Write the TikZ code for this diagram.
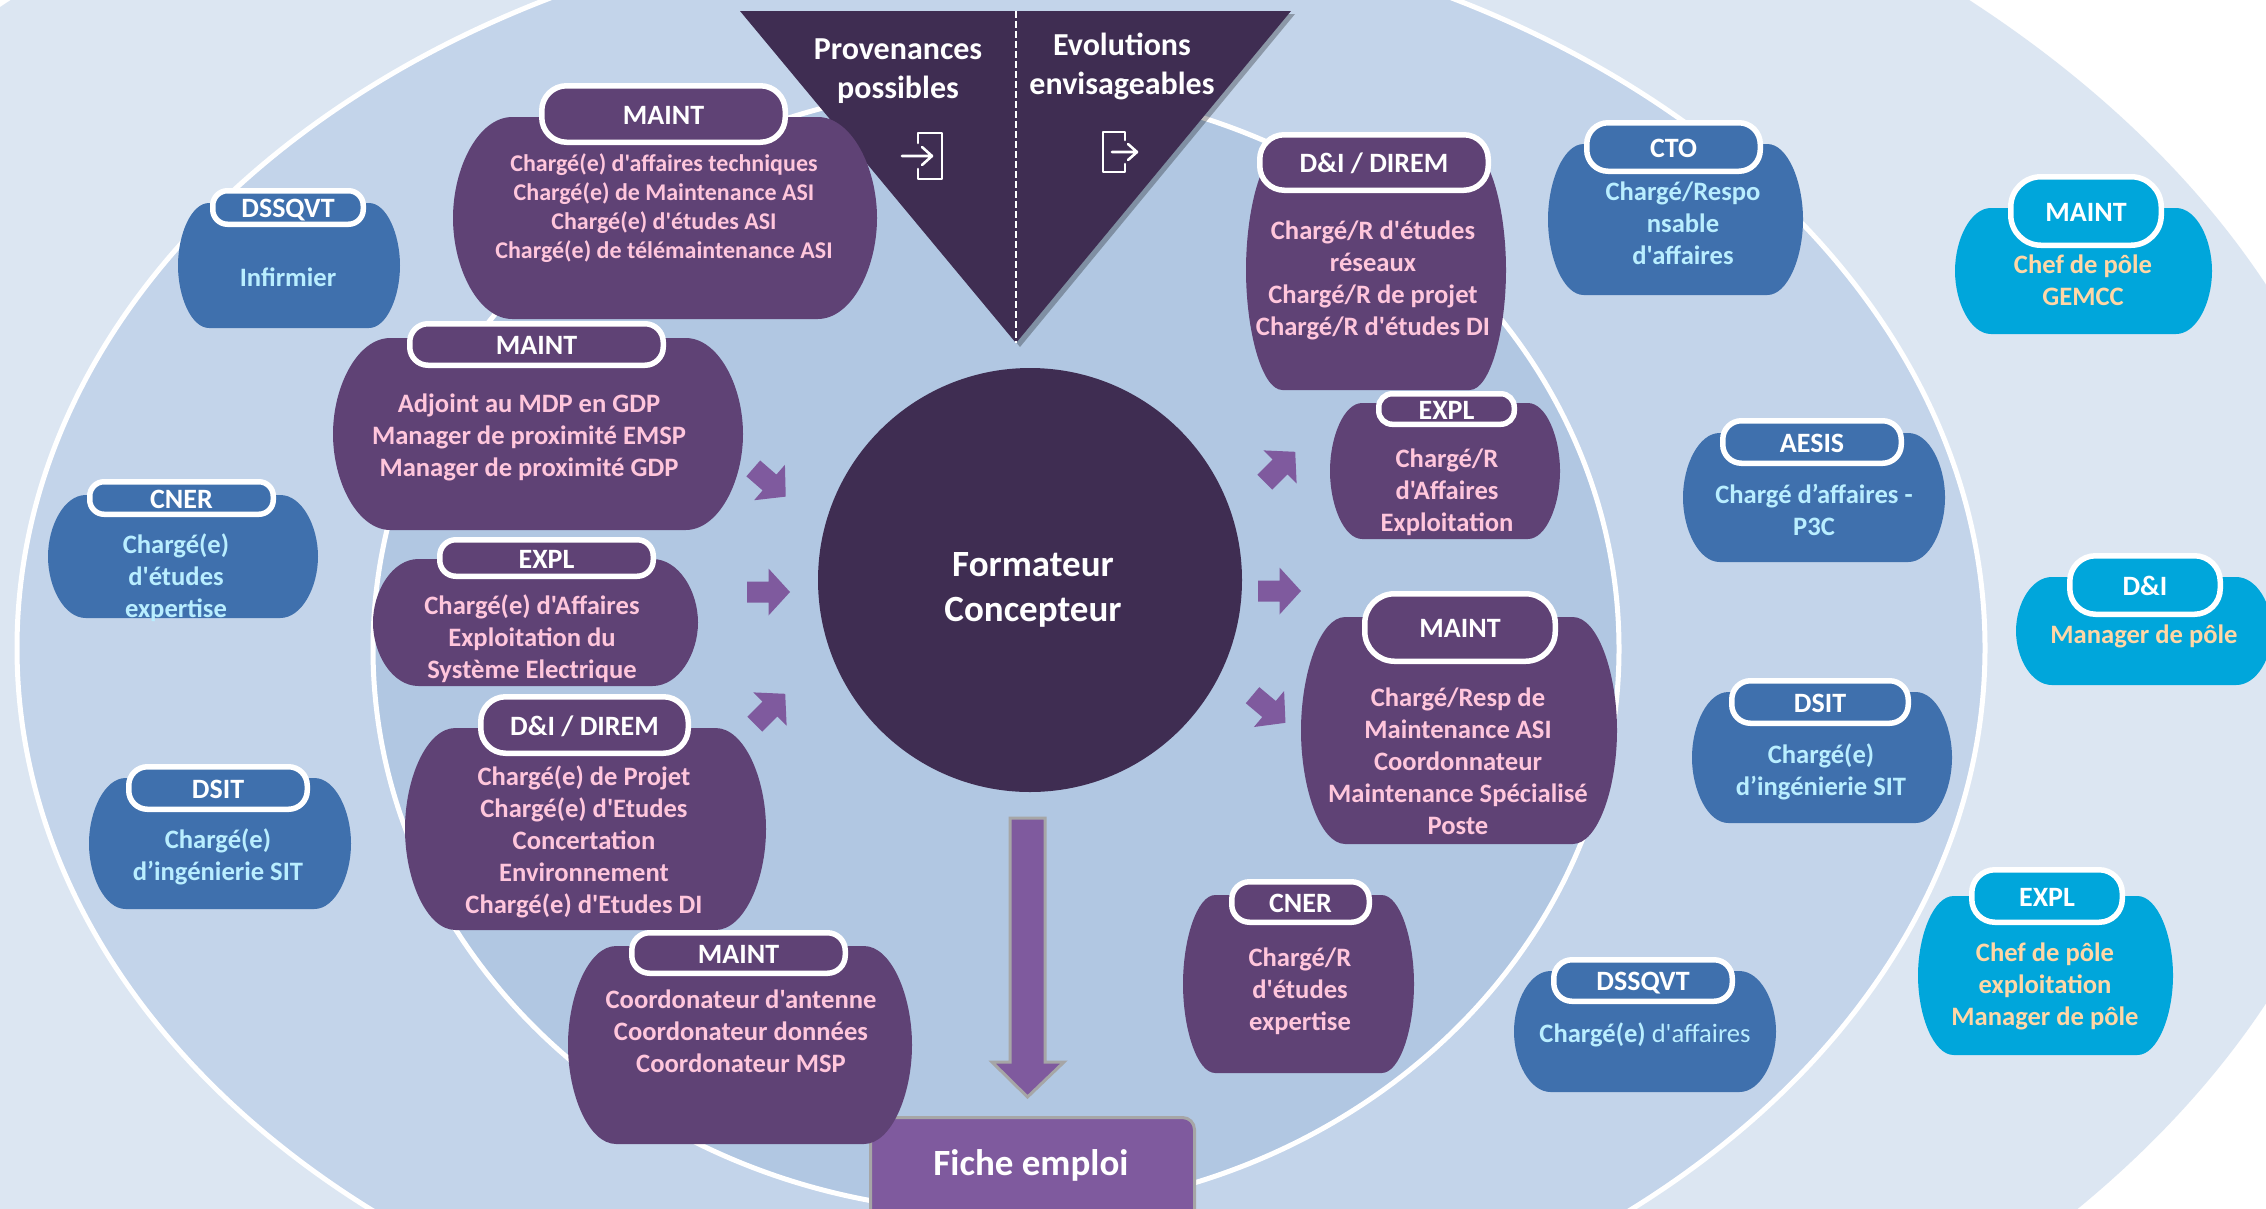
\documentclass[tikz,border=0pt]{standalone}
\usepackage{fontspec}
\setmainfont{Carlito}[Ligatures=TeXOff]
\definecolor{bgA}{HTML}{DCE6F2}
\definecolor{bgB}{HTML}{C3D4EA}
\definecolor{bgC}{HTML}{B1C7E2}
\definecolor{dark}{HTML}{3F2D52}
\definecolor{purp}{HTML}{5F4275}
\definecolor{blueb}{HTML}{3F70AD}
\definecolor{teal}{HTML}{00A6DB}
\definecolor{arrowp}{HTML}{7F5A9E}
\definecolor{pinkt}{HTML}{FFC6DC}
\definecolor{bluet}{HTML}{B9EEFF}
\definecolor{peacht}{HTML}{FFD7A6}
\tikzset{
  ring/.style={draw=white,line width=5pt},
  bodytext/.style={align=center,inner sep=0pt,font=\bfseries},
  hdr/.style={draw=white,line width=5.5pt,inner sep=0pt,text=white,font=\fontsize{28}{30}\selectfont\bfseries},
  smallarrow/.style={fill=arrowp},
  icon/.style={draw=white,line width=2.6pt,line cap=round,line join=round},
  bigtext/.style={align=center,inner sep=0pt,text=white},
}
% blob: x0,y0,x1,y1,colour
\newcommand\blob[5]{%
  \pgfmathsetmacro\bw{#3-#1}\pgfmathsetmacro\bh{#4-#2}\pgfmathsetmacro\bm{(#2+#4)/2}%
  \fill[#5] ({#1+.14*\bw},#2) -- ({#3-.14*\bw},#2)
    .. controls ({#3-.06*\bw},#2) and (#3,{#2+.25*\bh}) .. (#3,\bm)
    .. controls (#3,{#4-.25*\bh}) and ({#3-.06*\bw},#4) .. ({#3-.14*\bw},#4)
    -- ({#1+.14*\bw},#4)
    .. controls ({#1+.06*\bw},#4) and (#1,{#4-.25*\bh}) .. (#1,\bm)
    .. controls (#1,{#2+.25*\bh}) and ({#1+.06*\bw},#2) .. ({#1+.14*\bw},#2) -- cycle;}
% header: name,x0,y0,x1,y1,colour,text
\newcommand\head[7]{%
  \pgfmathsetmacro\hw{#4-#2-5.5}\pgfmathsetmacro\hh{#5-#3-5.5}\pgfmathsetmacro\hr{.44*\hh}%
  \node[hdr,fill=#6,minimum width=\hw pt,minimum height=\hh pt,rounded corners=\hr pt] (#1) at ({(#2+#4)/2},{(#3+#5)/2}) {\smash{\raisebox{-10pt}{#7}}};}
% body: name,cx,cy,size,spacing,colour,text
\newcommand\body[7]{%
  \node[bodytext,text=#6,font=\fontsize{#4}{#5}\selectfont\bfseries] (#1) at (#2,{#3+2.8}) {\strut #7\strut};}
% block arrow: centre x,y, rotation
\newcommand\barrow[3]{%
  \fill[smallarrow,shift={(#1,#2)},rotate=#3] (-21.5,-10.5) -- (0,-10.5) -- (0,-23.5) -- (21.5,0) -- (0,23.5) -- (0,10.5) -- (-21.5,10.5) -- cycle;}
\begin{document}
\begin{tikzpicture}[x=1pt,y=-1pt]
\useasboundingbox (0,0) rectangle (2266,1208);
\clip (0,0) rectangle (2266,1208);
\fill[white] (0,0) rectangle (2266,1208);
% rings
\fill[bgA] (990,644) ellipse [x radius=1389pt,y radius=908pt];
\fill[bgB] (1001,648) ellipse [x radius=984pt,y radius=731pt];
\draw[ring] (1001,648) ellipse [x radius=984pt,y radius=731pt];
\fill[bgC] (996,649) ellipse [x radius=623pt,y radius=563pt];
\draw[ring] (996,649) ellipse [x radius=623pt,y radius=563pt];
% triangle
\fill[black,opacity=.28] (743,14) -- (1295,14) -- (1020,347) -- cycle;
\fill[dark] (740,11) -- (1291,11) -- (1016,343) -- cycle;
\draw[white,line width=1.2pt,dash pattern=on 7pt off 3pt] (1016,11) -- (1016,343);
\node[bigtext,font=\fontsize{32}{39}\selectfont\bfseries] (prov) at (898,71.5) {\strut Provenances\\possibles\strut};
\node[bigtext,font=\fontsize{32}{39}\selectfont\bfseries] (evol) at (1122,67) {\strut Evolutions\\envisageables\strut};
\draw[icon] (918,143) -- (918,133) -- (942,133) -- (942,179) -- (918,179) -- (918,169);
\draw[icon] (902,156) -- (932,156) (922,147) -- (932,156) -- (922,165);
\draw[icon] (1125,140) -- (1125,132) -- (1103,132) -- (1103,172) -- (1125,172) -- (1125,164);
\draw[icon] (1112,152) -- (1137,152) (1128,144) -- (1137,152) -- (1128,160);
% centre
\node[circle,fill=dark,minimum size=424pt,inner sep=0pt] (centre) at (1030,580) {};
\node[bigtext,font=\fontsize{37}{45}\selectfont\bfseries] (titre) at (1033,590) {\strut Formateur\\Concepteur\strut};
% small arrows
\barrow{768.5}{592}{0}
\barrow{769.5}{482.5}{-41}
\barrow{770}{709}{45}
\barrow{1279.5}{591}{0}
\barrow{1280}{467}{45}
\barrow{1269}{709}{-40}
% big arrow
\fill[arrowp,draw=black!35,line width=3pt,line join=miter] (1010,818) -- (1045,818) -- (1045,1062) -- (1064,1062) -- (1027.5,1097) -- (992,1062) -- (1010,1062) -- cycle;
% fiche
\node[draw=black!35,fill=arrowp,line width=3pt,rounded corners=12pt,minimum width=324pt,minimum height=130pt,inner sep=0pt,anchor=north west] (fiche) at (869,1116) {};
\node[inner sep=0pt,text=white,font=\fontsize{37}{37}\selectfont\bfseries] (ficheT) at (1031,1165) {Fiche emploi};
% purple blobs
\blob{453}{117}{877}{319}{purp}
\head{h1}{539}{83}{788}{145}{purp}{MAINT}
\body{b1}{664}{206}{24}{29}{pinkt}{Chargé(e) d'affaires techniques\\Chargé(e) de Maintenance ASI\\Chargé(e) d'études ASI\\Chargé(e) de télémaintenance ASI}
\blob{333}{338}{743}{530}{purp}
\head{h3}{407}{321}{666}{368}{purp}{MAINT}
\body{b3}{529}{435}{26.6}{32}{pinkt}{Adjoint au MDP en GDP\\Manager de proximité EMSP\\Manager de proximité GDP}
\blob{373}{559}{698}{686}{purp}
\head{h5}{437}{537}{656}{579}{purp}{EXPL}
\body{b5}{532}{637}{26.6}{32}{pinkt}{Chargé(e) d'Affaires\\Exploitation du\\Système Electrique}
\blob{405}{728}{766}{930}{purp}
\head{h6}{478}{694}{691}{756}{purp}{D\&I / DIREM}
\body{b6}{584}{840}{26.6}{32}{pinkt}{Chargé(e) de Projet\\Chargé(e) d'Etudes\\Concertation\\Environnement\\Chargé(e) d'Etudes DI}
\blob{568}{946}{912}{1144}{purp}
\head{h7}{629}{930}{848}{976}{purp}{MAINT}
\body{b7}{741}{1031}{26.6}{32}{pinkt}{Coordonateur d'antenne\\Coordonateur données\\Coordonateur MSP}
\blob{1246}{150}{1506}{390}{purp}
\head{h9}{1257}{132}{1491}{193}{purp}{D\&I / DIREM}
\body{b9}{1373}{278}{26.6}{32}{pinkt}{Chargé/R d'études\\réseaux\\Chargé/R de projet\\Chargé/R d'études DI}
\blob{1330}{403}{1560}{539}{purp}
\head{h10}{1376}{391}{1517}{427}{purp}{EXPL}
\body{b10}{1447}{490}{26.6}{32}{pinkt}{Chargé/R\\d'Affaires\\Exploitation}
\blob{1301}{617}{1617}{844}{purp}
\head{h11}{1362}{591}{1558}{664}{purp}{MAINT}
\body{b11}{1458}{761}{26.6}{32}{pinkt}{Chargé/Resp de\\Maintenance ASI\\Coordonnateur\\Maintenance Spécialisé\\Poste}
\blob{1183}{895}{1414}{1073}{purp}
\head{h12}{1229}{879}{1372}{925}{purp}{CNER}
\body{b12}{1300}{989}{26.6}{32}{pinkt}{Chargé/R\\d'études\\expertise}
% blue blobs
\blob{178}{203}{400}{328}{blueb}
\head{h2}{210}{188}{366}{227}{blueb}{DSSQVT}
\body{b2}{288}{277}{26.6}{32}{bluet}{Infirmier}
\blob{48}{495}{318}{618}{blueb}
\head{h4}{87}{479}{276}{517}{blueb}{CNER}
\body{b4}{176}{576}{26.6}{32}{bluet}{Chargé(e)\\d'études\\expertise}
\blob{89}{778}{351}{909}{blueb}
\head{h8}{126}{764}{310}{812}{blueb}{DSIT}
\body{b8}{218}{855.5}{26.6}{32}{bluet}{Chargé(e)\\d’ingénierie SIT}
\blob{1548}{144}{1803}{295}{blueb}
\head{h14}{1584}{120}{1763}{174}{blueb}{CTO}
\body{b14}{1683}{223}{26.6}{32}{bluet}{Chargé/Respo\\nsable\\d'affaires}
\blob{1683}{433}{1945}{562}{blueb}
\head{h16}{1720}{418}{1904}{466}{blueb}{AESIS}
\body{b16}{1814}{510}{26.6}{32}{bluet}{Chargé d’affaires -\\P3C}
\blob{1692}{692}{1952}{823}{blueb}
\head{h18}{1729}{678}{1911}{726}{blueb}{DSIT}
\body{b18}{1821}{770}{26.6}{32}{bluet}{Chargé(e)\\d’ingénierie SIT}
\blob{1514}{971}{1776}{1092}{blueb}
\head{h19}{1551}{957}{1735}{1004}{blueb}{DSSQVT}
\body{b19}{1645}{1033}{26.6}{32}{bluet}{Chargé(e) {\mdseries d'affaires}}
% teal blobs
\blob{1955}{208}{2212}{334}{teal}
\head{h15}{2008}{174}{2164}{248}{teal}{MAINT}
\body{b15}{2083}{280}{26.6}{32}{peacht}{Chef de pôle\\GEMCC}
\blob{2016}{577}{2272}{685}{teal}
\head{h17}{2067}{553}{2223}{617}{teal}{D\&I}
\body{b17}{2144}{634}{26.6}{32}{peacht}{Manager de pôle}
\blob{1918}{896}{2173}{1055}{teal}
\head{h20}{1969}{867}{2125}{925}{teal}{EXPL}
\body{b20}{2045}{984}{26.6}{32}{peacht}{Chef de pôle\\exploitation\\Manager de pôle}
\end{tikzpicture}
\end{document}
